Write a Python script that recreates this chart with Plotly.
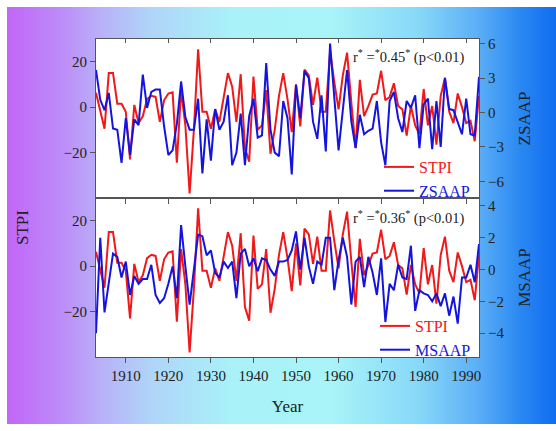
import base64
import plotly.graph_objects as go

years = list(range(1903, 1994))

stpi = [
    6.3, -2, -9.5, 15, 15, 1.5, 1.5, -2, -23, 1,          # 1903-1912
    -7, -4, 3.5, 5, 4.5, -6.5, 3, 6, 6.5, -24.5,          # 1913-1922
    7.5, -8, -38, -10, 25.5, -2, -2, -9.5, -1, -6.5,      # 1923-1932
    3.5, 15, 9, -6.5, 14.5, -18, -24, 13.5, -10, -8,      # 1933-1942
    7.5, -20.5, -10, 5, 15, 3.5, -11, 10, -8.5, 16.5,     # 1943-1952
    14, 1, 13, -2, -2, 24.5, 11, -1, 14, 24,              # 1953-1962
    2, -18, 12, -4, 0.5, 5.5, 6, 16, 3, 4.5,              # 1963-1972
    10.5, 0.5, -1, -12.5, 0.5, -8, -12, 8, -8, 0.5,       # 1973-1982
    -16.5, 5, 13, -2, -7, 6, 0, -7, -6, -15,              # 1983-1992
    5,                                                    # 1993
]

zsaap = [
    3.7, 1.1, 0.2, 1.7, -1.4, -1.5, -4.4, -0.5, -3.7, -0.6,   # 1903-1912
    -1.1, 3.3, 0.4, 1.8, 2.0, 2.0, -1.2, -3.7, -3.3, -1.0,    # 1913-1922
    2.7, -0.4, -1.5, -1.5, 1.2, -5.3, -0.6, -4.2, 0.3, -1.5,  # 1923-1932
    -0.8, 1.5, -4.6, -3.5, -0.1, -4.6, -0.3, 1.2, -2.2, -2.0, # 1933-1942
    4.3, -1.5, -3.5, -3.8, 1.0, -0.5, -5.4, 2.4, -0.5, 3.6,   # 1943-1952
    3.0, -0.8, -2.3, 1.5, -3.4, 6.0, 1.3, -3.3, 0.2, 3.7,     # 1953-1962
    -0.8, -3.1, -0.2, -1.9, -1.6, -1.4, 1.0, -2.6, -4.6, 1.0, # 1963-1972
    1.8, -0.5, -1.7, 1.0, 0.4, 1.5, -3.1, 0.7, 1.2, -3.2,     # 1973-1982
    1.0, -3.0, 3.0, 0.3, 0.2, -0.8, -1.9, 1.2, -1.9, -2.0,    # 1983-1992
    3.1,                                                      # 1993
]

msaap = [
    -4.0, 2.0, -2.7, -0.8, 1.0, 0.8, -0.5, 0.5, -1.6, -0.4,   # 1903-1912
    -0.9, -0.6, -0.6, 0.3, -1.6, -2.1, -1.8, -0.9, 0.2, -1.8, # 1913-1922
    2.8, 0.2, -2.2, 0.0, 2.2, 2.1, 0.9, 1.2, -0.2, -0.5,      # 1923-1932
    0.5, 0.1, 0.5, -1.8, 1.0, 1.3, 0.2, 0.7, -0.1, 0.7,       # 1933-1942
    0.6, 0.0, -0.4, 0.5, 0.5, 0.6, 1.2, 2.4, 0.0, 2.0,        # 1943-1952
    0.2, -0.9, 0.5, 0.3, 2.0, 2.0, -1.3, 0.6, 2.0, 0.8,       # 1953-1962
    -2.2, 0.5, 0.8, -1.1, 0.8, -0.2, -1.6, 0.7, -3.3, -0.9,   # 1963-1972
    -1.3, 0.3, -0.5, -0.6, 1.5, -2.6, -1.3, -1.5, -1.6, -2.0, # 1973-1982
    -1.5, -2.3, -1.5, -2.9, -1.7, -3.4, -0.5, -0.5, 0.3, -0.8,# 1983-1992
    1.6,                                                      # 1993
]

x_ticks = [1910, 1920, 1930, 1940, 1950, 1960, 1970, 1980, 1990]
left_ticks = [20, 0, -20]
ztick_vals = [6, 3, 0, -3, -6]
mtick_vals = [4, 2, 0, -2, -4]

RED = "#f01818"
BLUE = "#1414e0"
FONT = "Liberation Serif"
TXT = "#222222"
AX = "#555555"

# ---- gradient background (SVG data URI) ----
stops = [
    (0.00, "#c266f8"), (0.10, "#bd8cf8"), (0.17, "#b8b0f8"), (0.26, "#b0d4f8"),
    (0.41, "#a8f2f8"), (0.59, "#a8f4f8"), (0.75, "#88d8f8"), (0.86, "#5aaef6"),
    (0.935, "#2a88f2"), (1.00, "#106cf0"),
]
stop_xml = "".join(f"<stop offset='{o}' stop-color='{c}'/>" for o, c in stops)
svg = ("<svg xmlns='http://www.w3.org/2000/svg' width='549' height='417' "
       "viewBox='0 0 100 100' preserveAspectRatio='none'>"
       "<defs><linearGradient id='g' x1='0' y1='0' x2='1' y2='0'>" + stop_xml +
       "</linearGradient></defs><rect width='100' height='100' fill='url(#g)'/></svg>")
svg_uri = "data:image/svg+xml;base64," + base64.b64encode(svg.encode()).decode()

W, H = 556, 431
ML, MR, MT, MB = 96, 77, 39, 74
PW, PH = W - ML - MR, H - MT - MB


def px(xp):
    return (xp - ML) / PW


def py(yp):
    return (H - MB - yp) / PH


fig = go.Figure()

# top panel
fig.add_trace(go.Scatter(x=years, y=stpi, mode="lines", line=dict(color=RED, width=2),
                         name=f"<span style='color:{RED}'>STPI</span>",
                         xaxis="x", yaxis="y", legend="legend"))
fig.add_trace(go.Scatter(x=years, y=zsaap, mode="lines", line=dict(color=BLUE, width=2),
                         name=f"<span style='color:{BLUE}'>ZSAAP</span>",
                         xaxis="x", yaxis="y3", legend="legend"))
# dummy for top-edge inside ticks
fig.add_trace(go.Scatter(x=years, y=stpi, mode="lines", line=dict(color="rgba(0,0,0,0)", width=0),
                         xaxis="x3", yaxis="y", showlegend=False, hoverinfo="skip"))
# bottom panel
fig.add_trace(go.Scatter(x=years, y=stpi, mode="lines", line=dict(color=RED, width=2),
                         name=f"<span style='color:{RED}'>STPI</span>",
                         xaxis="x2", yaxis="y2", legend="legend2"))
fig.add_trace(go.Scatter(x=years, y=msaap, mode="lines", line=dict(color=BLUE, width=2),
                         name=f"<span style='color:{BLUE}'>MSAAP</span>",
                         xaxis="x2", yaxis="y4", legend="legend2"))

xr = [1903, 1993]
common_x = dict(range=xr, showgrid=False, zeroline=False, showline=True, linecolor=AX,
                linewidth=1, mirror=True, ticks="outside", ticklen=5, tickcolor=AX,
                tickvals=x_ticks, tickfont=dict(family=FONT, size=15, color=TXT))
common_y = dict(showgrid=False, zeroline=False, showline=True, linecolor=AX, linewidth=1,
                ticks="outside", ticklen=5, tickcolor=AX,
                tickfont=dict(family=FONT, size=15, color=TXT))

fig.update_layout(
    width=W, height=H,
    margin=dict(l=ML, r=MR, t=MT, b=MB),
    paper_bgcolor="white", plot_bgcolor="white",
    font=dict(family=FONT, color=TXT),
    xaxis=dict(common_x, anchor="y", showticklabels=False),
    xaxis3=dict(range=xr, overlaying="x", side="top", anchor="y", showgrid=False,
                zeroline=False, showline=False, ticks="inside", ticklen=4, tickcolor=AX,
                tickvals=x_ticks, showticklabels=False),
    xaxis2=dict(common_x, anchor="y2",
                title=dict(text="Year", font=dict(family=FONT, size=17, color=TXT), standoff=17)),
    yaxis=dict(common_y, domain=[0.5, 1], range=[-40, 30], tickvals=left_ticks, mirror=False,
               anchor="x"),
    yaxis3=dict(common_y, overlaying="y", side="right", range=[-7.45, 6.4], tickvals=ztick_vals,
                anchor="x",
                title=dict(text="ZSAAP", font=dict(family=FONT, size=17, color=TXT), standoff=14)),
    yaxis2=dict(common_y, domain=[0, 0.5], range=[-40, 30], tickvals=left_ticks, anchor="x2"),
    yaxis4=dict(common_y, overlaying="y2", side="right", range=[-5.5, 4.5], tickvals=mtick_vals,
                anchor="x2",
                title=dict(text="MSAAP", font=dict(family=FONT, size=17, color=TXT), standoff=14)),
    legend=dict(x=px(379), y=py(150), xanchor="left", yanchor="top", bgcolor="rgba(0,0,0,0)",
                borderwidth=0, font=dict(family=FONT, size=16), tracegroupgap=0),
    legend2=dict(x=px(375), y=py(309), xanchor="left", yanchor="top", bgcolor="rgba(0,0,0,0)",
                 borderwidth=0, font=dict(family=FONT, size=16), tracegroupgap=0),
    images=[dict(source=svg_uri, xref="paper", yref="paper", x=px(7), y=py(7),
                 sizex=549 / PW, sizey=417 / PH, xanchor="left", yanchor="top",
                 sizing="stretch", layer="below")],
    shapes=[dict(type="rect", xref="paper", yref="paper", x0=0, x1=1, y0=0, y1=1,
                 fillcolor="white", line=dict(width=0), layer="below")],
    annotations=[
        dict(text="r<sup>*</sup> =<sup>*</sup>0.45<sup>*</sup> (p&lt;0.01)", xref="paper",
             yref="paper", x=px(466), y=py(56), xanchor="right", yanchor="middle",
             showarrow=False, font=dict(family=FONT, size=14.5, color=TXT)),
        dict(text="r<sup>*</sup> =<sup>*</sup>0.36<sup>*</sup> (p&lt;0.01)", xref="paper",
             yref="paper", x=px(466), y=py(217), xanchor="right", yanchor="middle",
             showarrow=False, font=dict(family=FONT, size=14.5, color=TXT)),
        dict(text="STPI", xref="paper", yref="paper", x=px(22), y=py(228), xanchor="center",
             yanchor="middle", textangle=-90, showarrow=False,
             font=dict(family=FONT, size=17, color=TXT)),
    ],
)

fig.write_html("out.html")
